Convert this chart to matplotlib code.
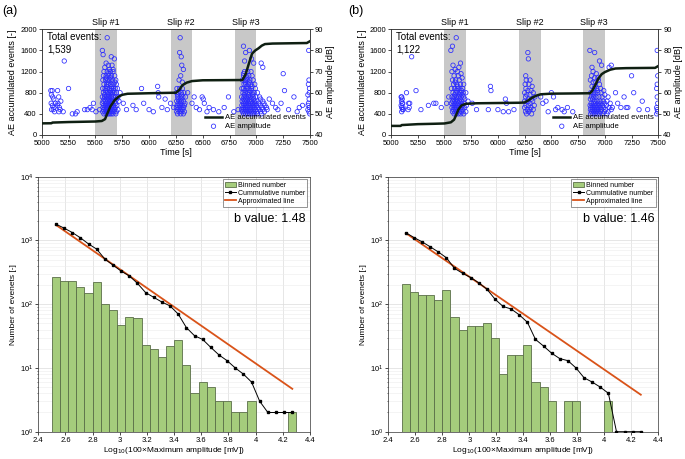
import matplotlib
matplotlib.use("Agg")
import matplotlib.pyplot as plt
from matplotlib.ticker import LogLocator, NullFormatter
import numpy as np

plt.rcParams["font.family"] = ["Liberation Sans", "DejaVu Sans"]

# ---- top panels: accumulated AE events + AE amplitude --------------------
slip_windows = [(5500, 5700), (6200, 6400), (6800, 7000)]
slip_names = ["Slip #1", "Slip #2", "Slip #3"]
total_events = ["1,539", "1,122"]

acc_t_a = [5000, 5090, 5100, 5250, 5500, 5560, 5590, 5610, 5640, 5680, 5720, 5750, 5800,
           6000, 6250, 6280, 6310, 6350, 6400, 6500, 6870, 6900, 6930, 6960, 6990,
           7020, 7050, 7080, 7150, 7470, 7500]
acc_n_a = [220, 222, 235, 245, 255, 265, 300, 400, 540, 660, 730, 760, 780,
           790, 800, 850, 940, 990, 1020, 1035, 1040, 1150, 1350, 1540, 1600,
           1640, 1690, 1720, 1730, 1740, 1775]

acc_t_b = [5000, 5090, 5100, 5250, 5400, 5500, 5560, 5590, 5610, 5630, 5660, 5700, 5800,
           6000, 6200, 6250, 6280, 6320, 6360, 6400, 6500, 6700, 6860, 6880, 6910,
           6940, 6970, 7000, 7050, 7100, 7200, 7470, 7500]
acc_n_b = [172, 172, 188, 205, 212, 218, 240, 290, 380, 480, 560, 590, 600,
           605, 610, 615, 650, 705, 745, 770, 782, 786, 790, 830, 940,
           1070, 1150, 1190, 1235, 1258, 1265, 1270, 1305]

# AE amplitude (time [s], amplitude [dB])
amp_a = [
    (5085, 61), (5098, 61), (5090, 59), (5102, 58), (5112, 57), (5088, 55), (5100, 54),
    (5115, 53), (5092, 52), (5108, 52), (5120, 51), (5128, 55), (5148, 61), (5158, 58),
    (5152, 55), (5165, 53), (5160, 51), (5172, 52), (5178, 56), (5145, 54), (5210, 75),
    (5250, 62), (5200, 51), (5285, 50), (5315, 50), (5330, 51), (5400, 52), (5425, 52),
    (5450, 53), (5470, 52), (5482, 55), (5505, 51), (5540, 52),
    (5730, 60), (5760, 55), (5790, 52), (5850, 54), (5880, 52), (5930, 62), (5950, 55),
    (6000, 52), (6040, 51), (6080, 63), (6090, 58), (6085, 60), (6120, 53), (6150, 57),
    (6170, 52), (6200, 55), (6230, 53),
    (6360, 60), (6400, 55), (6420, 58), (6440, 53), (6470, 52), (6495, 58), (6505, 57),
    (6515, 55), (6540, 51), (6560, 53), (6600, 52), (6650, 51), (6700, 53), (6740, 58),
    (6790, 51), (6830, 52),
    (7120, 57), (7150, 55), (7180, 53), (7200, 52), (7230, 55), (7250, 69), (7262, 61),
    (7300, 52), (7350, 58), (7400, 53), (7430, 54), (7380, 51),
    (7488, 80), (7490, 66), (7485, 64), (7495, 62), (7480, 59), (7492, 57), (7485, 55),
    (7495, 53), (7480, 52), (7490, 51), (7498, 50), (7482, 54), (7494, 60),
    # slip #1
    (5610, 86), (5565, 80), (5572, 78), (5648, 77), (5677, 76), (5600, 74), (5620, 73),
    (5588, 72), (5655, 73), (5630, 71), (5665, 71),
    (5580, 70), (5610, 70), (5640, 70), (5665, 70), (5575, 68), (5600, 68), (5625, 68),
    (5650, 68), (5680, 68), (5570, 66), (5595, 66), (5615, 66), (5635, 66), (5660, 66),
    (5690, 66), (5580, 64), (5605, 64), (5620, 64), (5645, 64), (5670, 64), (5695, 64),
    (5568, 62), (5590, 62), (5610, 62), (5630, 62), (5650, 62), (5665, 62), (5685, 62),
    (5705, 62), (5575, 60), (5598, 60), (5612, 60), (5628, 60), (5642, 60), (5658, 60),
    (5675, 60), (5695, 60), (5565, 58), (5585, 58), (5602, 58), (5618, 58), (5635, 58),
    (5650, 58), (5668, 58), (5688, 58), (5710, 58), (5580, 57), (5608, 57), (5625, 57),
    (5660, 57), (5700, 57), (5572, 56), (5592, 56), (5615, 56), (5630, 56), (5645, 56),
    (5660, 56), (5680, 56), (5720, 56), (5565, 55), (5600, 55), (5620, 55), (5640, 55),
    (5655, 55), (5690, 55), (5578, 54), (5595, 54), (5610, 54), (5625, 54), (5638, 54),
    (5652, 54), (5670, 54), (5700, 54), (5570, 53), (5588, 53), (5605, 53), (5618, 53),
    (5632, 53), (5648, 53), (5665, 53), (5685, 53), (5575, 52), (5598, 52), (5612, 52),
    (5628, 52), (5642, 52), (5658, 52), (5680, 52), (5710, 52), (5568, 51), (5590, 51),
    (5608, 51), (5620, 51), (5635, 51), (5650, 51), (5672, 51), (5695, 51), (5580, 50),
    (5600, 50), (5615, 50), (5630, 50), (5645, 50), (5662, 50), (5690, 50),
    (5585, 59), (5622, 59), (5655, 59), (5592, 61), (5638, 61), (5672, 61), (5605, 63),
    (5652, 63), (5618, 65), (5682, 65), (5598, 67), (5640, 67), (5625, 69),
    # slip #2
    (6290, 86), (6285, 79), (6300, 77), (6305, 73), (6320, 71), (6295, 68), (6280, 66),
    (6310, 65), (6260, 62), (6285, 62), (6310, 62), (6255, 60), (6275, 60), (6300, 60),
    (6325, 60), (6265, 58), (6290, 58), (6315, 58), (6340, 58), (6258, 56), (6280, 56),
    (6300, 56), (6320, 56), (6270, 55), (6295, 55), (6335, 55), (6262, 54), (6285, 54),
    (6310, 54), (6330, 54), (6255, 53), (6278, 53), (6300, 53), (6322, 53), (6268, 52),
    (6290, 52), (6315, 52), (6258, 51), (6280, 51), (6305, 51), (6330, 51), (6265, 50),
    (6295, 50), (6320, 50), (6272, 57), (6298, 57), (6268, 59), (6305, 59),
    # slip #3
    (6880, 82), (6900, 79), (6935, 80), (6955, 76), (6975, 74), (7045, 74), (7060, 72),
    (6890, 75), (6890, 70), (6920, 70), (6950, 70), (6880, 68), (6905, 68), (6930, 68),
    (6960, 68), (6870, 66), (6895, 66), (6915, 66), (6940, 66), (6970, 66), (6885, 64),
    (6900, 64), (6925, 64), (6950, 64), (6985, 64), (6865, 62), (6880, 62), (6910, 62),
    (6930, 62), (6955, 62), (6990, 62), (6875, 60), (6895, 60), (6915, 60), (6935, 60),
    (6960, 60), (6980, 60), (7010, 60), (6862, 58), (6885, 58), (6905, 58), (6925, 58),
    (6945, 58), (6970, 58), (6995, 58), (7030, 58), (6878, 57), (6900, 57), (6920, 57),
    (6950, 57), (6975, 57), (7040, 57), (6868, 56), (6890, 56), (6910, 56), (6935, 56),
    (6955, 56), (6985, 56), (7005, 56), (7060, 56), (6880, 55), (6900, 55), (6925, 55),
    (6945, 55), (6965, 55), (6990, 55), (7020, 55), (7070, 55), (6865, 54), (6885, 54),
    (6905, 54), (6930, 54), (6950, 54), (6975, 54), (7000, 54), (7035, 54), (7080, 54),
    (6875, 53), (6895, 53), (6915, 53), (6940, 53), (6960, 53), (6985, 53), (7015, 53),
    (7050, 53), (7095, 53), (6862, 52), (6882, 52), (6900, 52), (6922, 52), (6945, 52),
    (6970, 52), (6995, 52), (7025, 52), (7060, 52), (7100, 52), (6870, 51), (6890, 51),
    (6910, 51), (6932, 51), (6955, 51), (6978, 51), (7005, 51), (7040, 51), (7075, 51),
    (6880, 50), (6900, 50), (6920, 50), (6940, 50), (6962, 50), (6985, 50), (7010, 50),
    (7045, 50), (6888, 59), (6928, 59), (6965, 59), (6892, 61), (6940, 61), (6910, 63),
    (6960, 63), (6898, 65), (6935, 65), (6912, 67), (6880, 69),
]

amp_b = [
    (5095, 58), (5100, 58), (5105, 57), (5098, 56), (5110, 55), (5095, 54), (5100, 53),
    (5108, 52), (5115, 52), (5100, 51), (5112, 53), (5105, 55), (5145, 60), (5160, 52),
    (5165, 55), (5170, 53), (5175, 55), (5193, 77), (5234, 61), (5280, 52), (5350, 54),
    (5400, 55), (5420, 55), (5470, 53), (5520, 55), (5540, 58),
    (5760, 55), (5800, 52), (5910, 52), (5930, 63), (5935, 61), (6000, 52), (6050, 51),
    (6070, 57), (6080, 55), (6100, 51), (6150, 52),
    (6400, 58), (6420, 55), (6450, 56), (6470, 51), (6500, 60), (6520, 58), (6540, 52),
    (6560, 53), (6600, 52), (6620, 51), (6650, 53), (6700, 51),
    (7100, 60), (7120, 55), (7150, 53), (7180, 58), (7200, 53), (7215, 53), (7250, 68),
    (7270, 60), (7320, 52), (7350, 56), (7400, 52),
    (7490, 80), (7495, 68), (7490, 64), (7485, 62), (7490, 58), (7495, 55), (7485, 53),
    (7490, 52), (7495, 51), (7485, 50),
    # slip #1
    (5610, 86), (5575, 82), (5560, 80), (5650, 74), (5635, 72), (5580, 73), (5600, 71),
    (5570, 70), (5620, 70), (5655, 69), (5590, 68), (5630, 68), (5665, 67), (5575, 66),
    (5605, 66), (5640, 66), (5585, 64), (5615, 64), (5650, 64), (5680, 64), (5565, 62),
    (5595, 62), (5620, 62), (5645, 62), (5670, 62), (5580, 60), (5605, 60), (5625, 60),
    (5650, 60), (5675, 60), (5700, 60), (5570, 58), (5590, 58), (5612, 58), (5632, 58),
    (5655, 58), (5680, 58), (5585, 57), (5615, 57), (5645, 57), (5690, 57), (5575, 56),
    (5598, 56), (5620, 56), (5640, 56), (5662, 56), (5720, 56), (5565, 55), (5590, 55),
    (5610, 55), (5632, 55), (5655, 55), (5685, 55), (5580, 54), (5600, 54), (5622, 54),
    (5645, 54), (5668, 54), (5705, 54), (5570, 53), (5592, 53), (5612, 53), (5635, 53),
    (5658, 53), (5690, 53), (5582, 52), (5605, 52), (5625, 52), (5648, 52), (5672, 52),
    (5575, 51), (5598, 51), (5618, 51), (5640, 51), (5662, 51), (5700, 51), (5590, 50),
    (5610, 50), (5630, 50), (5652, 50), (5680, 50), (5595, 59), (5640, 59), (5665, 59),
    (5610, 61), (5660, 61), (5625, 63), (5600, 65),
    # slip #2
    (6280, 79), (6285, 76), (6260, 68), (6265, 66), (6300, 66), (6255, 64), (6290, 64),
    (6320, 63), (6262, 62), (6280, 61), (6310, 61), (6250, 60), (6270, 59), (6300, 59),
    (6330, 60), (6258, 58), (6285, 57), (6315, 57), (6250, 56), (6275, 56), (6300, 55),
    (6325, 56), (6262, 54), (6285, 54), (6310, 53), (6250, 53), (6275, 52), (6300, 52),
    (6330, 52), (6258, 51), (6288, 51), (6315, 50), (6268, 50), (6345, 58), (6340, 54),
    # slip #3
    (6860, 80), (6905, 79), (6950, 75), (6970, 73), (7040, 72), (7060, 73), (6880, 72),
    (6890, 70), (6920, 69), (6875, 68), (6905, 67), (6935, 67), (6865, 66), (6890, 65),
    (6915, 65), (6950, 64), (6880, 63), (6900, 62), (6925, 62), (6960, 62), (6990, 61),
    (6868, 60), (6888, 60), (6910, 60), (6935, 60), (6965, 60), (7000, 59), (6875, 58),
    (6895, 58), (6918, 58), (6945, 58), (6975, 58), (7030, 58), (6865, 57), (6885, 57),
    (6905, 56), (6928, 56), (6955, 56), (6985, 56), (7020, 56), (6872, 55), (6892, 55),
    (6912, 55), (6938, 55), (6965, 55), (7000, 55), (7050, 55), (6862, 54), (6882, 54),
    (6902, 54), (6925, 54), (6948, 54), (6978, 54), (7015, 54), (6870, 53), (6890, 53),
    (6910, 53), (6932, 53), (6958, 53), (6990, 53), (7040, 53), (7070, 53), (6865, 52),
    (6885, 52), (6905, 52), (6920, 52), (6942, 52), (6968, 52), (7005, 52), (7060, 52),
    (6875, 51), (6895, 51), (6915, 51), (6935, 51), (6960, 51), (6995, 51), (7030, 51),
    (6868, 50), (6888, 50), (6908, 50), (6928, 50), (6952, 50), (6980, 50), (7020, 50),
    (6898, 59), (6930, 61), (6908, 63), (6940, 66),
]

# ---- bottom panels: magnitude-frequency ------------------------------------
bin_edges = [round(2.5 + 0.06 * i, 2) for i in range(31)]
binned_a = [264, 232, 228, 188, 152, 220, 102, 81, 48, 64, 60, 23, 20, 15, 22, 27,
            11, 4, 6, 5, 3, 3, 2, 2, 3, 0, 0, 0, 0, 2]
binned_b = [205, 157, 139, 138, 115, 169, 64, 39, 45, 45, 50, 29, 8, 16, 16, 23,
            6, 5, 3, 0, 3, 3, 0, 0, 0, 3, 0, 0, 0, 0]
cum_a = [1800, 1560, 1330, 1100, 880, 730, 510, 410, 330, 278, 212, 152, 128, 108, 94,
         70, 43, 32, 28, 21, 16, 13, 10, 8, 6, 3, 2, 2, 2, 2]
cum_b = [1320, 1110, 950, 795, 660, 535, 365, 305, 262, 216, 172, 120, 92, 84, 68,
         52, 28, 22, 17, 14, 13, 10, 7, 6, 5, 4, 1, 1, 1, 1]
fit_x = [2.53, 4.27]
fit_a = [1750, 4.7]
fit_b = [1300, 3.8]
b_values = ["1.48", "1.46"]

BLUE = "#2b2bff"
LINE = "#0f1f12"
GREEN = "#a5cc7c"
ORANGE = "#d95319"

fig = plt.figure(figsize=(6.85, 4.59), dpi=100)

top_boxes = [[0.0609, 0.7059, 0.3917, 0.2303], [0.5708, 0.7059, 0.3902, 0.2303]]
bot_boxes = [[0.0559, 0.0595, 0.3966, 0.5556], [0.5669, 0.0595, 0.3942, 0.5556]]
acc = [(acc_t_a, acc_n_a), (acc_t_b, acc_n_b)]
amps = [amp_a, amp_b]
binned = [binned_a, binned_b]
cums = [cum_a, cum_b]
fits = [fit_a, fit_b]
letters = ["(a)", "(b)"]
letter_x = [0.004, 0.508]

centers = [(bin_edges[i] + bin_edges[i + 1]) / 2 for i in range(30)]
widths = [bin_edges[i + 1] - bin_edges[i] for i in range(30)]

for k in range(2):
    # top: amplitude scatter on the right axis (drawn below), events line above
    ax = fig.add_axes(top_boxes[k])
    ax2 = ax.twinx()
    for (s, e) in slip_windows:
        ax2.axvspan(s, e, color="#c8c8c8", lw=0, zorder=0)
    ax2.grid(axis="x", color="#e6e6e6", lw=0.6, zorder=0.5)
    ax2.set_axisbelow(True)
    t, n = acc[k]
    l1, = ax.plot(t, n, color=LINE, lw=1.8, zorder=5, label="AE accumulated events")
    pts = np.array(amps[k])
    sc = ax2.scatter(pts[:, 0], pts[:, 1], s=10, facecolors="none", edgecolors=BLUE,
                     linewidths=0.55, zorder=3, label="AE amplitude")
    ax.set_zorder(ax2.get_zorder() + 1)
    ax.patch.set_visible(False)
    ax.set_xlim(5000, 7500)
    ax.set_ylim(0, 2000)
    ax2.set_ylim(40, 90)
    ax.set_xticks(np.arange(5000, 7501, 250))
    ax.set_yticks(np.arange(0, 2001, 400))
    ax2.set_yticks(np.arange(40, 91, 10))
    ax.tick_params(labelsize=5.5, length=2, width=0.5, pad=1.5)
    ax2.tick_params(labelsize=5.5, length=2, width=0.5, pad=1.5)
    ax.set_xlabel("Time [s]", fontsize=6.5, labelpad=1)
    ax.set_ylabel("AE accumulated events [-]", fontsize=6.5, labelpad=2)
    ax2.set_ylabel("AE amplitude [dB]", fontsize=6.5, labelpad=2)
    for sp in list(ax.spines.values()) + list(ax2.spines.values()):
        sp.set_linewidth(0.5)
        sp.set_color("#333333")
    ax.text(0.02, 0.97, "Total events:\n" + total_events[k], transform=ax.transAxes,
            ha="left", va="top", fontsize=7, linespacing=1.25, zorder=10)
    for (s, e), name in zip(slip_windows, slip_names):
        ax.text((s + e) / 2, 2040, name, ha="center", va="bottom", fontsize=6.5)
    ax.legend([l1, sc], ["AE accumulated events", "AE amplitude"], loc="lower right",
              bbox_to_anchor=(1.01, -0.02), frameon=False, fontsize=5.5,
              handlelength=2.2, handletextpad=0.4, labelspacing=0.2)
    fig.text(letter_x[k], 0.975, letters[k], ha="left", va="center", fontsize=9)

    # bottom
    bx = fig.add_axes(bot_boxes[k])
    bh = bx.bar(centers, binned[k], width=widths, color=GREEN, edgecolor="#5a6e48",
                linewidth=0.6, label="Binned number", zorder=2)
    cl, = bx.plot(centers, cums[k], color="black", lw=0.7, marker="s", ms=1.6,
                  label="Cummulative number", zorder=4)
    fl, = bx.plot(fit_x, fits[k], color=ORANGE, lw=1.3, label="Approximated line",
                  zorder=3)
    bx.set_yscale("log")
    bx.set_ylim(1, 1e4)
    bx.set_xlim(2.4, 4.4)
    xt = np.round(np.arange(2.4, 4.41, 0.2), 1)
    bx.set_xticks(xt)
    bx.set_xticklabels([("%g" % v) for v in xt])
    bx.yaxis.set_minor_locator(LogLocator(base=10, subs=np.arange(2, 10)))
    bx.yaxis.set_minor_formatter(NullFormatter())
    bx.grid(which="major", color="#dcdcdc", lw=0.5)
    bx.grid(which="minor", axis="y", color="#ececec", lw=0.4)
    bx.set_axisbelow(True)
    bx.tick_params(labelsize=5.5, length=2, width=0.5, pad=1.5)
    bx.tick_params(which="minor", length=1, width=0.4)
    bx.set_xlabel("Log$_{10}$(100×Maximum amplitude [mV])", fontsize=6, labelpad=1)
    bx.set_ylabel("Number of evenets [-]", fontsize=6, labelpad=2)
    for sp in bx.spines.values():
        sp.set_linewidth(0.5)
        sp.set_color("#333333")
    bx.text(0.985, 0.835, "b value: " + b_values[k], transform=bx.transAxes,
            ha="right", va="center", fontsize=9)
    leg = bx.legend([bh, cl, fl], ["Binned number", "Cummulative number", "Approximated line"],
                    loc="upper right", fontsize=5, frameon=True, fancybox=False,
                    handlelength=1.6, handletextpad=0.3, labelspacing=0.15,
                    borderpad=0.3, borderaxespad=0.4)
    leg.get_frame().set_linewidth(0.5)
    leg.get_frame().set_edgecolor("#444444")

fig.savefig("out.png", dpi=100)
